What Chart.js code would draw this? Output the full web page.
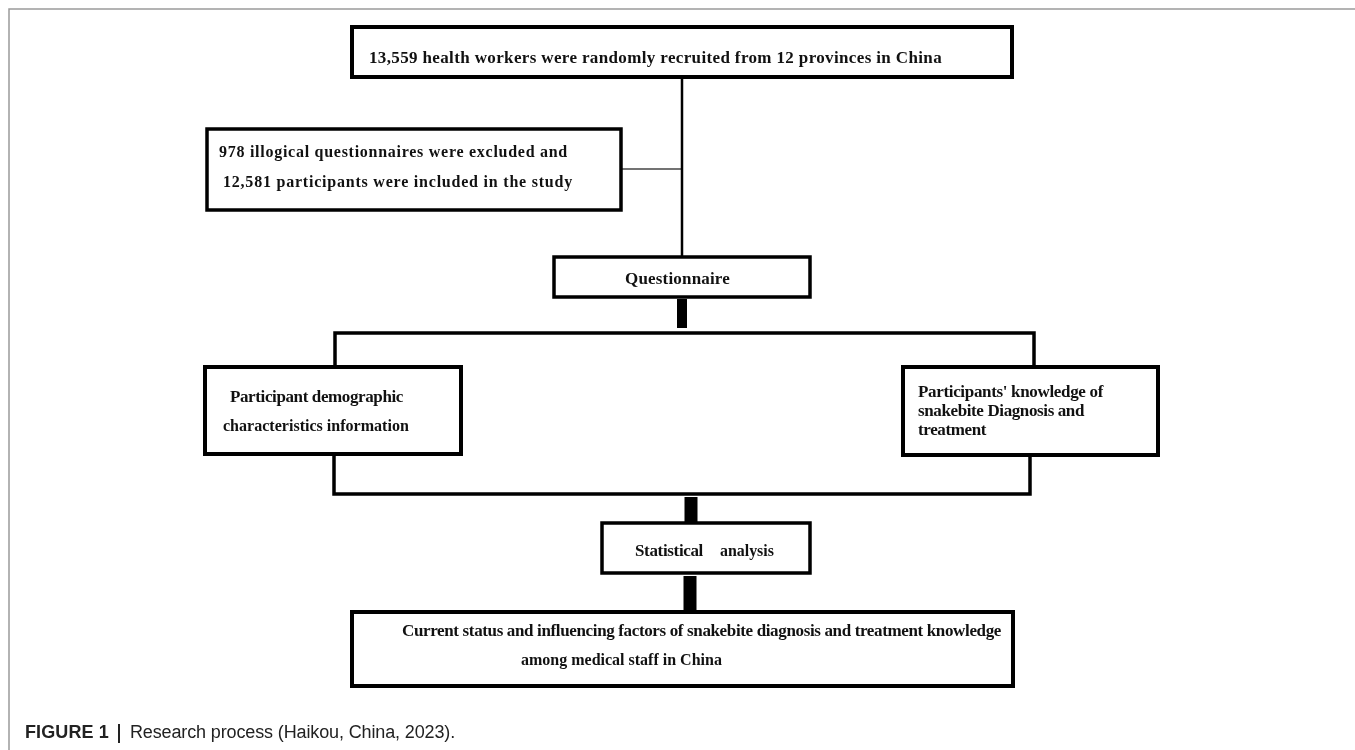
<!DOCTYPE html>
<html>
<head>
<meta charset="utf-8">
<script src="https://cdn.jsdelivr.net/npm/chart.js@4.4.1/dist/chart.umd.min.js"></script>
<style>
  html, body { margin: 0; background: #fff; }
  #wrap { width: 1355px; height: 750px; }
</style>
</head>
<body>
<div id="wrap"><canvas id="flow"></canvas></div>
<script>
// flowchart text, one array per step
const recruitText = ['13,559 health workers were randomly recruited from 12 provinces in China'];
const excludedText = ['978 illogical questionnaires were excluded and', '12,581 participants were included in the study'];
const surveyText = ['Questionnaire'];
const demographicText = ['Participant demographic', 'characteristics information'];
const knowledgeText = ["Participants' knowledge of", 'snakebite Diagnosis and', 'treatment'];
const analysisText = ['Statistical', 'analysis'];
const resultText = ['Current status and influencing factors of snakebite diagnosis and treatment knowledge', 'among medical staff in China'];
const captionBold = 'FIGURE 1';
const captionRest = 'Research process (Haikou, China, 2023).';

// layout in page units (x 0..1355, y 0..750 from the top)
const boxes = [
  { x0: 352, y0: 27, x1: 1012, y1: 77, w: 4 },
  { x0: 207, y0: 129, x1: 621, y1: 210, w: 3.5 },
  { x0: 554, y0: 257, x1: 810, y1: 297, w: 3.5 },
  { x0: 205, y0: 367, x1: 461, y1: 454, w: 4 },
  { x0: 903, y0: 367, x1: 1158, y1: 455, w: 4 },
  { x0: 602, y0: 523, x1: 810, y1: 573, w: 3.5 },
  { x0: 352, y0: 612, x1: 1013, y1: 686, w: 4 }
];
const links = [
  { pts: [[9, 750], [9, 9], [1355, 9]], w: 1.5, c: '#9a9a9a' },
  { pts: [[682, 77], [682, 257]], w: 2.5, c: '#000' },
  { pts: [[621, 169], [682, 169]], w: 1.5, c: '#444' },
  { pts: [[682, 299], [682, 328]], w: 10, c: '#000' },
  { pts: [[335, 367], [335, 333], [1034, 333], [1034, 367]], w: 3.5, c: '#000' },
  { pts: [[334, 454], [334, 494], [1030, 494], [1030, 455]], w: 3.5, c: '#000' },
  { pts: [[691, 497], [691, 523]], w: 13, c: '#000' },
  { pts: [[690, 576], [690, 612]], w: 13, c: '#000' }
];
const serif = '"Liberation Serif", "Times New Roman", serif';
const sans = '"Liberation Sans", Arial, sans-serif';
const labels = [
  { lines: recruitText, x: [369], y: [59], w: [573], size: 17 },
  { lines: excludedText, x: [219, 223], y: [153, 183], w: [349, 350], size: 16 },
  { lines: surveyText, x: [625], y: [280], w: [105], size: 17 },
  { lines: demographicText, x: [230, 223], y: [398, 427], w: [173, 186], size: 17 },
  { lines: knowledgeText, x: [918, 918, 918], y: [393, 412, 431], w: [185, 166, 68], size: 17 },
  { lines: analysisText, x: [635, 720], y: [552, 552], w: [68, 54], size: 17 },
  { lines: resultText, x: [402, 521], y: [632, 661], w: [599, 201], size: 17 }
];

function boxPoints(b) {
  return [
    { x: b.x0, y: b.y0 }, { x: b.x1, y: b.y0 }, { x: b.x1, y: b.y1 },
    { x: b.x0, y: b.y1 }, { x: b.x0, y: b.y0 }
  ];
}

const datasets = boxes.map(b => ({
  data: boxPoints(b),
  borderColor: '#000',
  borderWidth: b.w,
  borderCapStyle: 'square'
})).concat(links.map(l => ({
  data: l.pts.map(p => ({ x: p[0], y: p[1] })),
  borderColor: l.c,
  borderWidth: l.w,
  borderCapStyle: 'butt'
}))).map(d => Object.assign(d, {
  showLine: true,
  pointRadius: 0,
  fill: false,
  tension: 0,
  clip: false,
  borderJoinStyle: 'miter'
}));

function drawFit(ctx, text, x, y, width, size, weight, family) {
  ctx.letterSpacing = '0px';
  ctx.font = weight + ' ' + size + 'px ' + family;
  const m = ctx.measureText(text).width;
  let ls = (width - m) / text.length;
  if (ls < -0.4) {
    size = size * width / m;
    ctx.font = weight + ' ' + size + 'px ' + family;
    ls = 0;
  }
  ctx.letterSpacing = ls + 'px';
  ctx.fillText(text, x, y);
}

const textPlugin = {
  id: 'boxText',
  afterDatasetsDraw(chart) {
    const ctx = chart.ctx;
    const sx = chart.scales.x, sy = chart.scales.y;
    ctx.save();
    ctx.fillStyle = '#111';
    ctx.textBaseline = 'middle';
    ctx.textAlign = 'left';
    labels.forEach(l => {
      l.lines.forEach((t, i) => {
        drawFit(ctx, t, sx.getPixelForValue(l.x[i]), sy.getPixelForValue(l.y[i]), l.w[i], l.size, 'bold', serif);
      });
    });
    ctx.fillStyle = '#222';
    drawFit(ctx, captionBold, sx.getPixelForValue(25), sy.getPixelForValue(733), 84, 18, 'bold', sans);
    ctx.letterSpacing = '0px';
    ctx.fillRect(sx.getPixelForValue(118), sy.getPixelForValue(724), 2, 19);
    drawFit(ctx, captionRest, sx.getPixelForValue(130), sy.getPixelForValue(733), 325, 18, 'normal', sans);
    ctx.restore();
  }
};

new Chart(document.getElementById('flow'), {
  type: 'scatter',
  data: { datasets: datasets },
  options: {
    animation: false,
    responsive: true,
    maintainAspectRatio: false,
    layout: { padding: 0 },
    plugins: { legend: { display: false }, tooltip: { enabled: false } },
    scales: {
      x: { type: 'linear', min: 0, max: 1355, display: false },
      y: { type: 'linear', min: 0, max: 750, reverse: true, display: false }
    }
  },
  plugins: [textPlugin]
});
</script>
</body>
</html>
